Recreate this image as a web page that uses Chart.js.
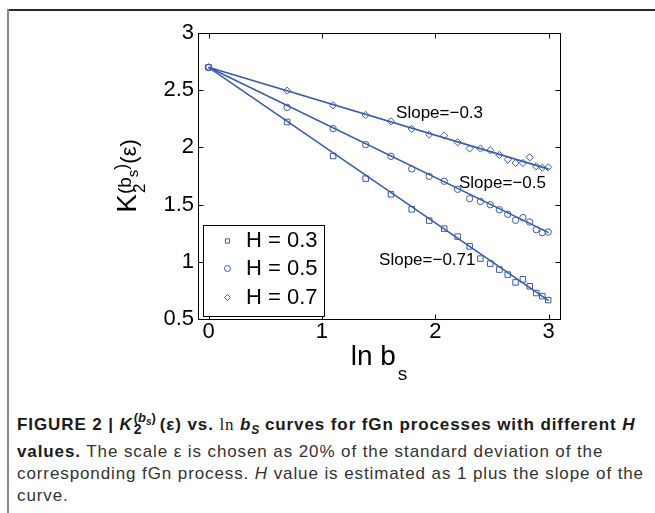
<!DOCTYPE html>
<html>
<head>
<meta charset="utf-8">
<script src="https://cdn.jsdelivr.net/npm/chart.js@4.4.1/dist/chart.umd.min.js"></script>
<style>
  html, body { margin: 0; padding: 0; background: #fff; }
  #page { position: relative; width: 655px; height: 513px; overflow: hidden; background: #fff; }
  #frameTop { position: absolute; left: 7px; top: 9px; width: 648px; height: 2px; background: #2b2b2b; }
  #frameLeft { position: absolute; left: 7px; top: 9px; width: 2px; height: 504px; background: #8a8a8a; }
  #chart { position: absolute; left: 0; top: 0; }
  .cap { position: absolute; left: 17px; white-space: nowrap; font-family: 'Liberation Sans', Arial, sans-serif;
         font-size: 17px; line-height: 22px; color: #333; letter-spacing: 0.9px; }
  .cap b { color: #1a1a1a; }
  .serif { font-family: 'Liberation Serif', 'Times New Roman', serif; font-weight: normal; color: #1a1a1a; }
  .stk { display: inline-block; position: relative; width: 27px; height: 0; }
  .stk .up { position: absolute; left: 1px; bottom: 5px; font-size: 13px; line-height: 13px; letter-spacing: 0; }
  .stk .dn { position: absolute; left: 1px; top: -8px; font-size: 14px; line-height: 14px; letter-spacing: 0; }
  .sm { font-size: 10px; position: relative; top: 3px; }
  .subS { font-size: 12px; position: relative; top: 4px; letter-spacing: 0; }
</style>
</head>
<body>
<div id="page">
  <div id="frameTop"></div>
  <div id="frameLeft"></div>
  <canvas id="chart" width="655" height="395"></canvas>
  <div class="cap" style="top:414px"><b>FIGURE 2 | <i>K</i><span class="stk"><span class="up">(<i>b<span class="sm">s</span></i>)</span><span class="dn">2</span></span>(ε) vs. <span class="serif">ln</span> <i>b<span class="subS">S</span></i> curves for fGn processes with different <i>H</i></b></div>
  <div class="cap" style="top:441px"><b>values.</b> The scale ε is chosen as 20% of the standard deviation of the</div>
  <div class="cap" style="top:463px">corresponding fGn process. <i>H</i> value is estimated as 1 plus the slope of the</div>
  <div class="cap" style="top:485px">curve.</div>
</div>
<script>
// K2 vs ln(bs) for fGn processes, three H values with fitted lines

const lnB = [0, 0.693, 1.099, 1.386, 1.609, 1.792, 1.946, 2.079, 2.197, 2.303,
             2.398, 2.485, 2.565, 2.639, 2.708, 2.773, 2.833, 2.890, 2.944, 2.996];
const kH03 = [2.70, 2.222, 1.925, 1.727, 1.590, 1.459, 1.360, 1.290, 1.220, 1.135,
              1.028, 0.984, 0.932, 0.888, 0.820, 0.847, 0.786, 0.727, 0.700, 0.665];
const kH05 = [2.70, 2.350, 2.164, 2.024, 1.922, 1.812, 1.747, 1.704, 1.634, 1.552,
              1.528, 1.499, 1.455, 1.415, 1.363, 1.386, 1.348, 1.281, 1.255, 1.260];
const kH07 = [2.70, 2.496, 2.368, 2.283, 2.228, 2.161, 2.112, 2.103, 2.045, 1.990,
              1.990, 1.975, 1.934, 1.893, 1.864, 1.864, 1.913, 1.835, 1.823, 1.826];

const seriesLabels = ['H = 0.3', 'H = 0.5', 'H = 0.7'];

// fitted straight lines, evaluated at both ends
const fitX = [0, 3];
const fit03 = [2.70, 0.66];
const fit05 = [2.70, 1.255];
const fit07 = [2.70, 1.81];

const slopeText = ['Slope=\u22120.3', 'Slope=\u22120.5', 'Slope=\u22120.71'];
const slopeAtX = [1.654, 2.209, 1.504];
const slopeAtY = [2.295, 1.689, 1.013];

const xTicks = [0, 1, 2, 3];
const yTicks = [0.5, 1, 1.5, 2, 2.5, 3];

const BLUE = '#3b5bab';
const FONT = "'Liberation Sans', Arial, Helvetica, sans-serif";

const toXY = (xs, ys) => xs.map((v, i) => ({ x: v, y: ys[i] }));

const markerSet = (label, ys, style, r) => ({
  label,
  data: toXY(lnB, ys),
  showLine: false,
  pointStyle: style,
  pointRadius: r,
  pointBorderWidth: 1,
  pointBorderColor: BLUE,
  pointBackgroundColor: 'rgba(0,0,0,0)',
});

const fitSet = ys => ({
  label: '',
  data: toXY(fitX, ys),
  showLine: true,
  borderColor: BLUE,
  borderWidth: 1.6,
  pointRadius: 0,
});

// box, inward ticks, slope notes, legend and axis titles
const decorations = {
  id: 'decorations',
  afterDraw(chart) {
    const { ctx, chartArea: a, scales: { x, y } } = chart;
    ctx.save();

    const L = Math.round(a.left) + 0.5, R = Math.round(a.right) + 0.5;
    const T = Math.round(a.top) + 0.5, B = Math.round(a.bottom) + 0.5;
    ctx.strokeStyle = '#000';
    ctx.lineWidth = 1;
    ctx.strokeRect(L, T, R - L, B - T);
    ctx.beginPath();
    xTicks.forEach(v => {
      const px = Math.round(x.getPixelForValue(v)) + 0.5;
      ctx.moveTo(px, B); ctx.lineTo(px, B - 5);
      ctx.moveTo(px, T); ctx.lineTo(px, T + 5);
    });
    yTicks.forEach(v => {
      const py = Math.round(y.getPixelForValue(v)) + 0.5;
      ctx.moveTo(L, py); ctx.lineTo(L + 5, py);
      ctx.moveTo(R, py); ctx.lineTo(R - 5, py);
    });
    ctx.stroke();

    // slope notes
    ctx.fillStyle = '#000';
    ctx.font = '17px ' + FONT;
    ctx.textAlign = 'left';
    ctx.textBaseline = 'middle';
    slopeText.forEach((t, i) => {
      ctx.fillText(t, x.getPixelForValue(slopeAtX[i]), y.getPixelForValue(slopeAtY[i]));
    });

    // legend
    const bx = 203.5, by = 225.5, bw = 121, bh = 91;
    ctx.fillStyle = '#fff';
    ctx.fillRect(bx, by, bw, bh);
    ctx.strokeStyle = '#000';
    ctx.strokeRect(bx, by, bw, bh);
    const rowY = [241, 268.5, 297.5];
    chart.data.datasets.slice(0, 3).forEach((ds, i) => {
      ctx.strokeStyle = BLUE;
      ctx.fillStyle = 'rgba(0,0,0,0)';
      ctx.lineWidth = 1;
      Chart.helpers.drawPoint(ctx, { pointStyle: ds.pointStyle, radius: 3, rotation: 0, borderWidth: 1 }, 227.5, rowY[i]);
      ctx.fillStyle = '#000';
      ctx.font = '22px ' + FONT;
      ctx.textBaseline = 'middle';
      ctx.fillText(ds.label, 246, rowY[i]);
    });

    // x title: ln b_s
    const cx = (a.left + a.right) / 2;
    ctx.font = '28px ' + FONT;
    const w1 = ctx.measureText('ln b').width;
    ctx.font = '19px ' + FONT;
    const w2 = ctx.measureText('s').width;
    const sx = cx - (w1 + 2 + w2) / 2;
    ctx.textBaseline = 'alphabetic';
    ctx.font = '28px ' + FONT;
    ctx.fillText('ln b', sx, 365);
    ctx.font = '19px ' + FONT;
    ctx.fillText('s', sx + w1 + 2, 380);

    // y title: K_2^(b _s ^) (eps), rotated
    const parts = [
      { t: 'K', s: 28, dy: 0 },
      { t: '(b', s: 19, dy: -5, sub: { t: '2', s: 17, dy: 9 } },
      { t: 's', s: 15, dy: 2 },
      { t: ')', s: 18, dy: -9 },
      { t: '(\u03b5)', s: 22, dy: 0 },
    ];
    let total = 0;
    parts.forEach(p => { ctx.font = p.s + 'px ' + FONT; p.w = ctx.measureText(p.t).width; total += p.w; });
    ctx.translate(136, (a.top + a.bottom) / 2);
    ctx.rotate(-Math.PI / 2);
    let px = -total / 2;
    parts.forEach(p => {
      ctx.font = p.s + 'px ' + FONT;
      ctx.fillText(p.t, px, p.dy);
      if (p.sub) {
        ctx.font = p.sub.s + 'px ' + FONT;
        ctx.fillText(p.sub.t, px + 1, p.sub.dy);
      }
      px += p.w;
    });

    ctx.restore();
  },
};

new Chart(document.getElementById('chart'), {
  type: 'scatter',
  data: {
    datasets: [
      markerSet(seriesLabels[0], kH03, 'rect', 3.9),
      markerSet(seriesLabels[1], kH05, 'circle', 3.2),
      markerSet(seriesLabels[2], kH07, 'rectRot', 3.6),
      fitSet(fit03),
      fitSet(fit05),
      fitSet(fit07),
    ],
  },
  options: {
    responsive: false,
    animation: false,
    devicePixelRatio: 1,
    layout: { padding: { left: 0, right: 95, top: 33, bottom: 0 } },
    plugins: {
      legend: { display: false },
      tooltip: { enabled: false },
    },
    scales: {
      x: {
        type: 'linear',
        min: -0.093,
        max: 3.1,
        grid: { display: false, drawTicks: false },
        border: { display: false },
        ticks: { color: '#000', font: { family: FONT, size: 22 }, padding: 0, maxRotation: 0, autoSkip: false },
        afterBuildTicks: s => { s.ticks = xTicks.map(v => ({ value: v })); },
        afterFit: s => { s.height = 76; },
      },
      y: {
        type: 'linear',
        min: 0.5,
        max: 3,
        grid: { display: false, drawTicks: false },
        border: { display: false },
        ticks: { color: '#000', font: { family: FONT, size: 22 }, padding: 4, callback: v => String(v) },
        afterBuildTicks: s => { s.ticks = yTicks.map(v => ({ value: v })); },
        afterFit: s => { s.width = 198; },
      },
    },
  },
  plugins: [decorations],
});
</script>
</body>
</html>
